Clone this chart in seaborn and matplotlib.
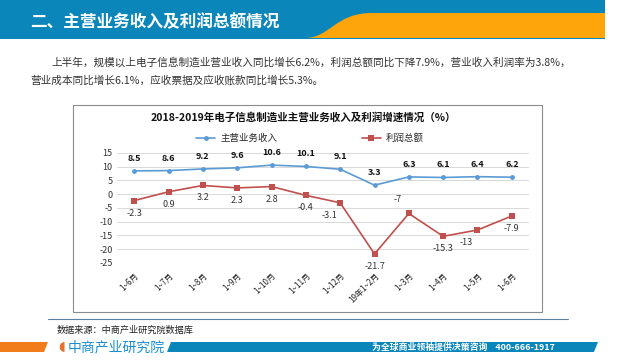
import numpy as np
import pandas as pd
import matplotlib
matplotlib.use("Agg")
import matplotlib.pyplot as plt
from matplotlib.patches import Rectangle, Polygon, PathPatch
from matplotlib.path import Path
from matplotlib.lines import Line2D
import seaborn as sns

# datos del gráfico
meses = ["1~6月", "1~7月", "1~8月", "1~9月", "1~10月", "1~11月", "1~12月",
         "19年1~2月", "1~3月", "1~4月", "1~5月", "1~6月"]
ingresos = [8.5, 8.6, 9.2, 9.6, 10.6, 10.1, 9.1, 3.3, 6.3, 6.1, 6.4, 6.2]
beneficio = [-2.3, 0.9, 3.2, 2.3, 2.8, -0.4, -3.1, -21.7, -7, -15.3, -13, -7.9]
serie_ingresos = "主营业务收入"
serie_beneficio = "利润总额"
yticks = [15, 10, 5, 0, -5, -10, -15, -20, -25]

titulo_cabecera = "二、主营业务收入及利润总额情况"
parrafo = ["上半年，规模以上电子信息制造业营业收入同比增长6.2%，利润总额同比下降7.9%，营业收入利润率为3.8%，",
           "营业成本同比增长6.1%，应收票据及应收账款同比增长5.3%。"]
titulo_grafico = "2018-2019年电子信息制造业主营业务收入及利润增速情况（%）"
fuente = "数据来源：中商产业研究院数据库"

AZUL = "#5B9BD5"
ROJO = "#C0504D"
AZUL_CAB = "#0B86BA"
NARANJA = "#FFA50C"

sns.set_theme(style="white")
plt.rcParams["font.family"] = ["Noto Sans CJK SC", "DejaVu Sans"]
plt.rcParams["axes.unicode_minus"] = False

W, H = 640, 360
fig = plt.figure(figsize=(6.4, 3.6), dpi=100)

# capa de fondo en coordenadas de píxel
bg = fig.add_axes([0, 0, 1, 1])
bg.set_xlim(0, W)
bg.set_ylim(H, 0)
bg.axis("off")

# cabecera
bg.add_patch(Rectangle((0, 0), 605, 39, color=AZUL_CAB, lw=0))
verts = [(605, 13), (372, 13), (335, 13), (330, 38), (305, 38), (605, 38), (605, 13)]
codes = [Path.MOVETO, Path.LINETO, Path.CURVE4, Path.CURVE4, Path.CURVE4, Path.LINETO, Path.CLOSEPOLY]
bg.add_patch(PathPatch(Path(verts, codes), color=NARANJA, lw=0))
bg.text(30, 22, titulo_cabecera, color="white", fontsize=12, fontweight="bold", va="center", ha="left")

# párrafo
bg.text(52, 62, parrafo[0], fontsize=7.65, color="#333333", va="center")
bg.text(30, 80, parrafo[1], fontsize=7.65, color="#333333", va="center")

# marco del gráfico
bg.add_patch(Rectangle((73, 105), 469, 207, fill=False, ec="#8C8C8C", lw=0.8))
bg.plot([48, 568], [319, 319], color="#5A7FA0", lw=0.8)
bg.text(57, 330, fuente, fontsize=6.6, color="#222222", va="center")

# pie
bg.add_patch(Polygon([(0, 342), (48, 342), (44, 352), (0, 352)], color="#F07D1A", lw=0))
bg.add_patch(Polygon([(171, 342), (598, 342), (594, 352), (167, 352)], color=AZUL_CAB, lw=0))
bg.text(58, 347, "◖", fontsize=9, color="#E8702A", va="center", ha="left")
bg.text(68, 347, "中商产业研究院", fontsize=10, color="#1A8FD0", va="center", ha="left")
bg.text(555, 347, "为全球商业领袖提供决策咨询    400-666-1917", fontsize=6.4, color="white",
        fontweight="bold", va="center", ha="right")

# gráfico de líneas
ax = fig.add_axes([117 / W, 1 - 263 / H, 412 / W, 110 / H])
df = pd.DataFrame({"x": np.arange(len(meses)), serie_ingresos: ingresos, serie_beneficio: beneficio})

sns.lineplot(data=df, x="x", y=serie_ingresos, ax=ax, color=AZUL, lw=1.2,
             marker="o", markersize=3.5, markeredgewidth=0)
sns.lineplot(data=df, x="x", y=serie_beneficio, ax=ax, color=ROJO, lw=1.2,
             marker="s", markersize=4.2, markeredgewidth=0)

ax.set_xlim(-0.5, len(meses) - 0.5)
ax.set_ylim(-25, 15)
ax.set_yticks(yticks)
ax.set_xticks(df["x"])
ax.set_xticklabels(meses, rotation=45, ha="right", va="top", rotation_mode="anchor", fontsize=5.8)
ax.tick_params(axis="y", labelsize=6.5, pad=3, length=0, colors="#333333")
ax.tick_params(axis="x", pad=6, length=0, colors="#222222")
ax.set_xlabel("")
ax.set_ylabel("")
ax.grid(axis="y", color="#D9D9D9", lw=0.7)
ax.set_axisbelow(True)
for s in ax.spines.values():
    s.set_visible(False)
ax.patch.set_alpha(0)

# etiquetas de datos
for i, v in enumerate(ingresos):
    ax.annotate(f"{v:g}", (i, v), xytext=(0, 9), textcoords="offset points",
                ha="center", va="center", fontsize=6.5, fontweight="bold", color="#111111")

desplaz = {6: (-8, -9), 8: (-8, 10), 10: (-8, -9)}
for i, v in enumerate(beneficio):
    dx, dy = desplaz.get(i, (0, -9))
    ax.annotate(f"{v:g}", (i, v), xytext=(dx, dy), textcoords="offset points",
                ha="center", va="center", fontsize=6.5, color="#333333")

fig.text(303 / W, 1 - 117 / H, titulo_grafico, fontsize=7.6, fontweight="bold",
         ha="center", va="center", color="#111111")

handles = [Line2D([], [], color=AZUL, lw=1.2, marker="o", markersize=3.5, markeredgewidth=0),
           Line2D([], [], color=ROJO, lw=1.2, marker="s", markersize=4.2, markeredgewidth=0)]
fig.legend(handles, [serie_ingresos, serie_beneficio], loc="center", ncol=2,
           bbox_to_anchor=(310 / W, 1 - 138 / H), frameon=False, fontsize=6.8,
           handlelength=2.0, columnspacing=9, handletextpad=0.5)

fig.savefig("out.png", dpi=100)
